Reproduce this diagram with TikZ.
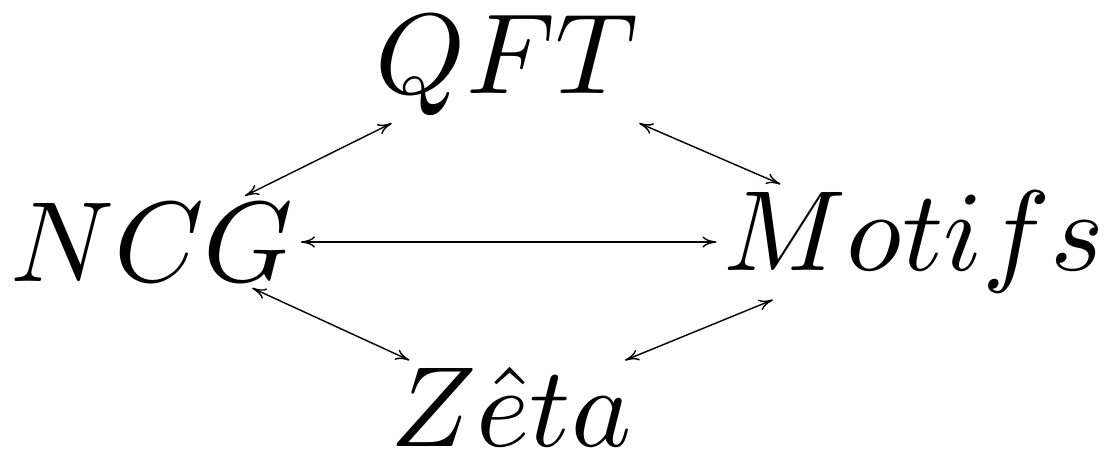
\RequirePackage{fix-cm}
\documentclass[tikz,border=0pt]{standalone}
\usepackage{amsmath,amssymb}
\usetikzlibrary{arrows.meta}
% 10pt designs, scaled up
\DeclareFontShape{OML}{cmm}{m}{it}{<->cmmi10}{}
\DeclareFontShape{OT1}{cmr}{m}{n}{<->cmr10}{}
\tikzset{
  darrow/.style={{To[length=4pt,width=3.2pt]}-{To[length=4pt,width=3.2pt]}, line width=0.4pt},
  term/.style={inner sep=2pt, outer sep=0pt, font=\fontsize{32.5}{39}\selectfont}
}
\begin{document}
\begin{tikzpicture}[x=1cm, y=1cm]
    \useasboundingbox (0,0) rectangle (11.11,-4.57);
    \node[term] (qft) at (5.07,-0.66) {$QFT$};
    \node[term] (ncg) at (1.52,-2.42) {$NCG$};
    \node[term] (mot) at (9.14,-2.42) {$Motifs$};
    \node[term] (zeta) at (5.11,-4.07) {$Z\hat{e}ta$};
    \draw[darrow] (qft) -- (ncg);
    \draw[darrow] (qft) -- (mot);
    \draw[darrow] (ncg) -- (mot);
    \draw[darrow] (ncg) -- (zeta);
    \draw[darrow] (mot) -- (zeta);
  \end{tikzpicture}
\end{document}
